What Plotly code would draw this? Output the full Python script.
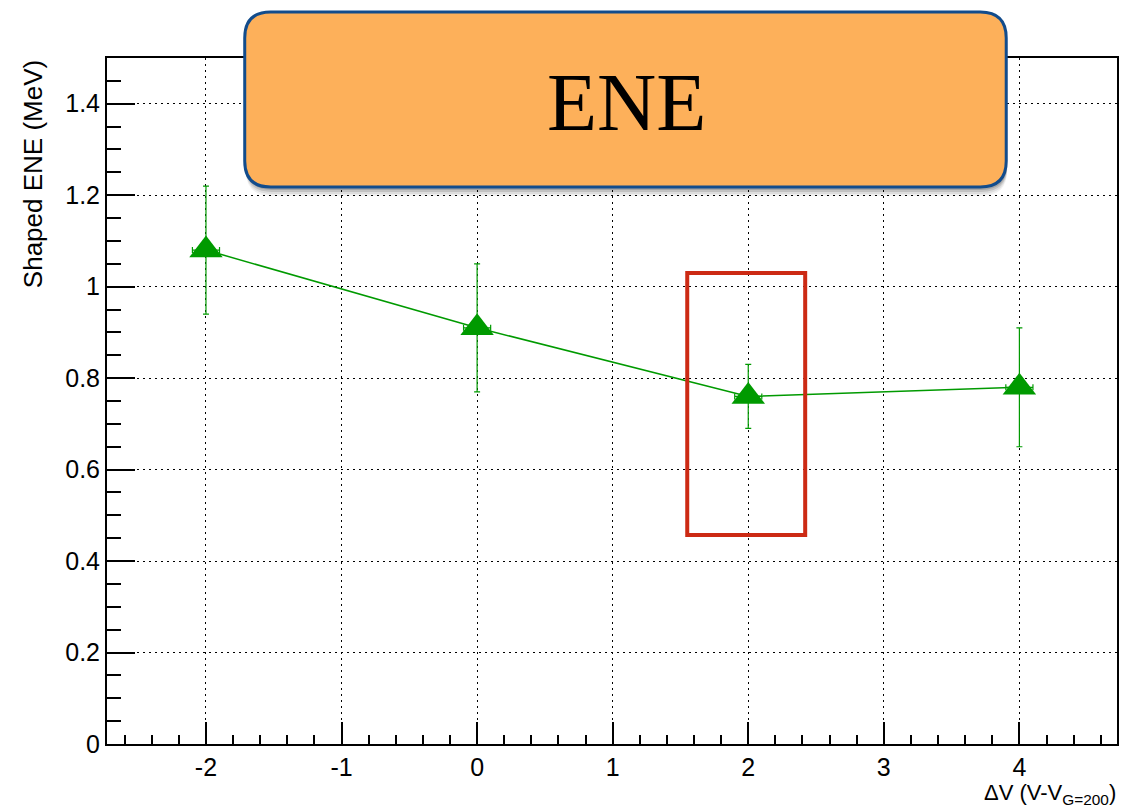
import plotly.graph_objects as go

# Measured shaped ENE versus gate-voltage offset
delta_v = [-2, 0, 2, 4]
ene_mev = [1.08, 0.91, 0.76, 0.78]
ene_err = [0.14, 0.14, 0.07, 0.13]
dv_err = [0.1, 0.1, 0.1, 0.1]

x_ticks = [-2, -1, 0, 1, 2, 3, 4]
y_ticks = [0, 0.2, 0.4, 0.6, 0.8, 1, 1.2, 1.4]
y_tick_text = ["0", "0.2", "0.4", "0.6", "0.8", "1", "1.2", "1.4"]

W, H = 1129, 810
L, R, T, B = 107, 10, 58, 66
PW, PH = W - L - R, H - T - B

GREEN = "#009a00"


def px(xp):
    return (xp - L) / PW


def py(yp):
    return (H - B - yp) / PH


def rounded_rect(x0, y0, x1, y1, r):
    # pixel box -> paper-coordinate SVG path with rounded corners
    rx, ry = r / PW, r / PH
    a, b = px(x0), px(x1)
    top, bot = py(y0), py(y1)
    return (
        f"M{a + rx},{top} L{b - rx},{top} Q{b},{top} {b},{top - ry} "
        f"L{b},{bot + ry} Q{b},{bot} {b - rx},{bot} "
        f"L{a + rx},{bot} Q{a},{bot} {a},{bot + ry} "
        f"L{a},{top - ry} Q{a},{top} {a + rx},{top} Z"
    )


fig = go.Figure()
fig.add_trace(
    go.Scatter(
        x=delta_v,
        y=ene_mev,
        mode="lines+markers",
        line=dict(color=GREEN, width=1.5),
        marker=dict(symbol="triangle-up", size=29, color=GREEN),
        error_y=dict(type="data", array=ene_err, color=GREEN, thickness=1.2, width=3),
        error_x=dict(type="data", array=dv_err, color=GREEN, thickness=1.2, width=3),
        showlegend=False,
    )
)

axis_common = dict(
    showline=True,
    linecolor="black",
    linewidth=2,
    mirror=True,
    ticks="inside",
    tickcolor="black",
    tickwidth=1.5,
    showgrid=True,
    gridcolor="black",
    griddash="2px,4px",
    gridwidth=1.3,
    zeroline=False,
    tickfont=dict(family="Liberation Sans, Arial, sans-serif", size=25, color="black"),
)

fig.update_xaxes(
    range=[-2.73, 4.72],
    tickvals=x_ticks,
    ticktext=[str(v) for v in x_ticks],
    ticklen=22,
    minor=dict(dtick=0.2, ticklen=9, ticks="inside", tickcolor="black", tickwidth=1.5, showgrid=False),
    **axis_common,
)
fig.update_yaxes(
    range=[0, 1.5],
    tickvals=y_ticks,
    ticktext=y_tick_text,
    ticklen=28,
    minor=dict(dtick=0.05, ticklen=14, ticks="inside", tickcolor="black", tickwidth=1.5, showgrid=False),
    **axis_common,
)

shapes = []
# soft drop shadow under the title box
for off, op in [(9, 0.06), (7, 0.08), (5, 0.12), (3, 0.15)]:
    shapes.append(
        dict(
            type="path", xref="paper", yref="paper",
            path=rounded_rect(245 + 1, 12 + off, 1008 + 1, 187 + off, 26),
            fillcolor=f"rgba(0,0,0,{op})", line=dict(width=0), layer="above",
        )
    )
shapes.append(
    dict(
        type="path", xref="paper", yref="paper",
        path=rounded_rect(245, 12, 1008, 187, 26),
        fillcolor="#fdb05a", line=dict(color="#124c8c", width=3), layer="above",
    )
)
# highlight around the ΔV = 2 point
shapes.append(
    dict(
        type="rect", xref="x", yref="y",
        x0=1.55, x1=2.42, y0=0.457, y1=1.03,
        line=dict(color="#cc2a14", width=4), fillcolor="rgba(0,0,0,0)", layer="above",
    )
)

annotations = [
    dict(
        text="ENE", xref="paper", yref="paper", x=px(628), y=py(102),
        xanchor="center", yanchor="middle", showarrow=False,
        font=dict(family="Liberation Serif, Times New Roman, serif", size=82, color="black"),
    ),
    dict(
        text="Shaped ENE (MeV)", xref="paper", yref="paper", x=px(33), y=1.0,
        xanchor="center", yanchor="top", textangle=-90, showarrow=False,
        font=dict(family="Liberation Sans, Arial, sans-serif", size=26, color="black"),
    ),
    dict(
        text="ΔV (V-V<sub>G=200</sub>)", xref="paper", yref="paper", x=1.0, y=py(809),
        xanchor="right", yanchor="bottom", showarrow=False, borderpad=0,
        font=dict(family="Liberation Sans, Arial, sans-serif", size=22, color="black"),
    ),
]

fig.update_layout(
    width=W,
    height=H,
    margin=dict(l=L, r=R, t=T, b=B, pad=0),
    paper_bgcolor="white",
    plot_bgcolor="white",
    shapes=shapes,
    annotations=annotations,
)

fig.write_html("out.html")
